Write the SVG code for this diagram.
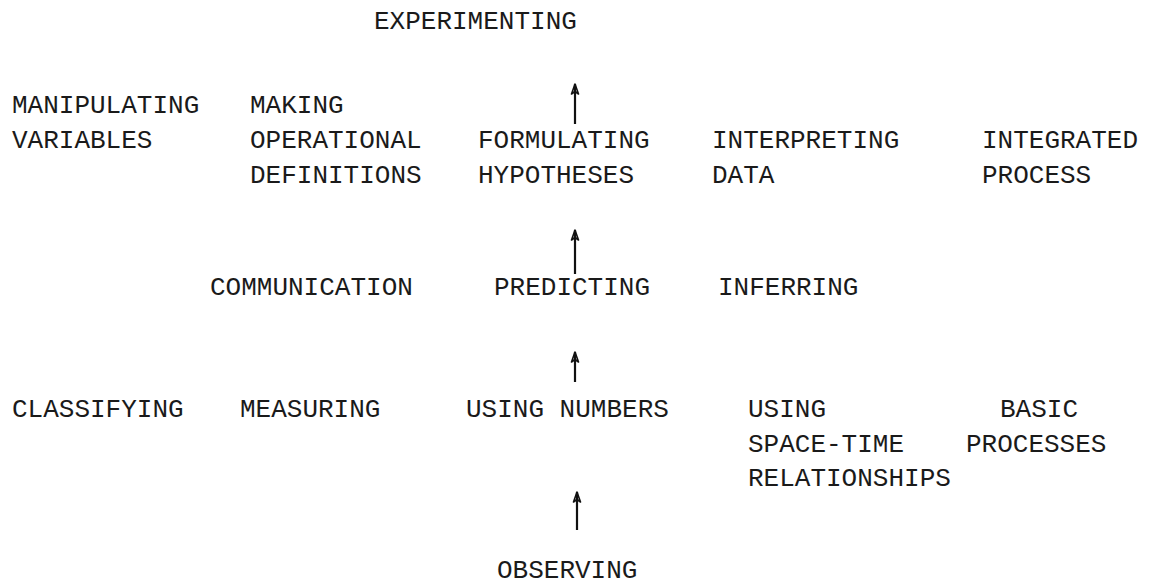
<svg xmlns="http://www.w3.org/2000/svg" width="1152" height="584" viewBox="0 0 1152 584">
<defs>
<style>
text{font-family:"Liberation Mono","Courier New",monospace;font-size:26px;fill:#1a1a1a}
.c line{stroke:#111;stroke-width:2.2}
</style>
<marker id="ah" viewBox="0 0 12 10" refX="11" refY="5" markerWidth="12" markerHeight="10" markerUnits="userSpaceOnUse" orient="auto">
<path d="M11,5 L1,1.5 L3.5,5 L1,8.5 Z" fill="none" stroke="#111" stroke-width="1.6" stroke-linejoin="round"/>
</marker>
</defs>
<rect width="1152" height="584" fill="#fff"/>
<g id="experimenting"><text x="374" y="29">EXPERIMENTING</text></g>
<g id="manipulating"><text x="12" y="113">MANIPULATING</text><text x="12" y="148">VARIABLES</text></g>
<g id="making"><text x="250" y="113">MAKING</text><text x="250" y="148">OPERATIONAL</text><text x="250" y="183">DEFINITIONS</text></g>
<g id="formulating"><text x="478" y="148">FORMULATING</text><text x="478" y="183">HYPOTHESES</text></g>
<g id="interpreting"><text x="712" y="148">INTERPRETING</text><text x="712" y="183">DATA</text></g>
<g id="integrated"><text x="982" y="148">INTEGRATED</text><text x="982" y="183">PROCESS</text></g>
<g id="communication"><text x="210" y="295">COMMUNICATION</text></g>
<g id="predicting"><text x="494" y="295">PREDICTING</text></g>
<g id="inferring"><text x="718" y="295">INFERRING</text></g>
<g id="classifying"><text x="12" y="417">CLASSIFYING</text></g>
<g id="measuring"><text x="240" y="417">MEASURING</text></g>
<g id="usingnumbers"><text x="466" y="417">USING NUMBERS</text></g>
<g id="spacetime"><text x="748" y="417">USING</text><text x="748" y="452">SPACE-TIME</text><text x="748" y="486">RELATIONSHIPS</text></g>
<g id="basic"><text x="1000" y="417">BASIC</text><text x="966" y="452">PROCESSES</text></g>
<g id="observing"><text x="497" y="578">OBSERVING</text></g>
<g id="connectors" class="c">
<line x1="575" y1="124" x2="575" y2="84" marker-end="url(#ah)"/>
<line x1="575" y1="274" x2="575" y2="230" marker-end="url(#ah)"/>
<line x1="575" y1="382" x2="575" y2="352" marker-end="url(#ah)"/>
<line x1="577" y1="530" x2="577" y2="492" marker-end="url(#ah)"/>
</g>
</svg>
